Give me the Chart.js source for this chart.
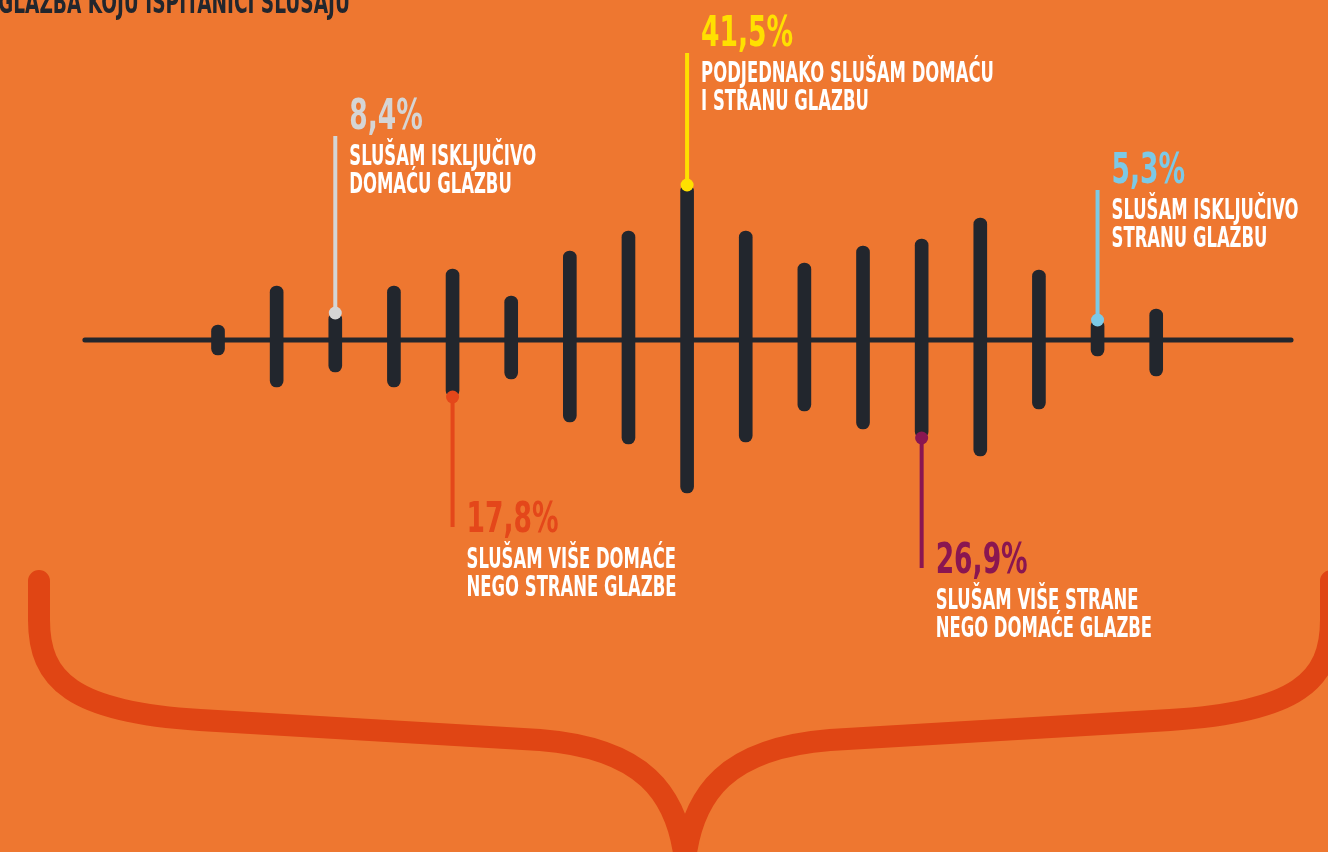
<!DOCTYPE html>
<html>
<head>
<meta charset="utf-8">
<script src="https://cdn.jsdelivr.net/npm/chart.js@4.4.1/dist/chart.umd.min.js"></script>
<style>
  html, body { margin: 0; padding: 0; background: #ee7730; overflow: hidden; }
  #wrap { position: relative; width: 1328px; height: 852px; }
</style>
</head>
<body>
<div id="wrap"><canvas id="chart"></canvas></div>
<script>
// Columns of the "sound wave", values measured from the baseline (up = positive)
const barIndex  = [0, 1, 2, 3, 4, 5, 6, 7, 8, 9, 10, 11, 12, 13, 14, 15, 16];
const barTop    = [15, 54, 27, 54, 71, 44, 89, 109, 155, 109, 77, 94, 101, 122, 70, 20, 31];
const barBottom = [-15, -47, -32, -47, -57, -39, -82, -104, -153, -102, -71, -89, -98, -116, -69, -16, -36];

// Baseline extent (in column units)
const axisStart = -2.27;
const axisEnd = 18.3;

// Callouts
const calloutBar   = [2, 4, 8, 12, 15];
const calloutSide  = ['top', 'bottom', 'top', 'bottom', 'top'];
const calloutEnd   = [204, -187, 287, -228, 150];
const calloutValue = ['8,4%', '17,8%', '41,5%', '26,9%', '5,3%'];
const calloutLabel = [
    ['SLUŠAM ISKLJUČIVO', 'DOMAĆU GLAZBU'],
    ['SLUŠAM VIŠE DOMAĆE', 'NEGO STRANE GLAZBE'],
    ['PODJEDNAKO SLUŠAM DOMAĆU', 'I STRANU GLAZBU'],
    ['SLUŠAM VIŠE STRANE', 'NEGO DOMAĆE GLAZBE'],
    ['SLUŠAM ISKLJUČIVO', 'STRANU GLAZBU']
];
const calloutColor = ['#d5d5d5', '#e4471a', '#ffe000', '#8a1651', '#7cc9e6'];

const title = 'GLAZBA KOJU ISPITANICI SLUŠAJU';

const DARK = '#22262d';
const BRACE = '#e04514';
const FONT = "'Liberation Sans Narrow', 'DejaVu Sans Condensed', 'Roboto', sans-serif";

// datasets
const datasets = [];

calloutBar.forEach((b, i) => {
    const start = calloutSide[i] === 'top' ? barTop[b] : barBottom[b];
    datasets.push({
        type: 'line',
        data: [{ x: barIndex[b], y: start }, { x: barIndex[b], y: calloutEnd[i] }],
        borderColor: calloutColor[i],
        borderWidth: 4,
        pointRadius: [6.5, 0],
        pointBackgroundColor: calloutColor[i],
        pointBorderWidth: 0,
        order: 1
    });
});

datasets.push({
    type: 'bar',
    data: barIndex.map((x, i) => ({ x: x, y: [barBottom[i], barTop[i]] })),
    backgroundColor: DARK,
    barThickness: 13,
    borderRadius: 7,
    borderSkipped: false,
    order: 2
});

datasets.push({
    type: 'line',
    data: [{ x: axisStart, y: 0 }, { x: axisEnd, y: 0 }],
    borderColor: DARK,
    borderWidth: 5,
    borderCapStyle: 'round',
    pointRadius: 0,
    order: 3
});

function fitScale(ctx, font, sample, width) {
    ctx.font = font;
    return width / ctx.measureText(sample).width;
}

function drawText(ctx, txt, x, y, font, color, sx) {
    ctx.save();
    ctx.translate(x, y);
    ctx.scale(sx, 1);
    ctx.font = font;
    ctx.fillStyle = color;
    ctx.textAlign = 'left';
    ctx.textBaseline = 'alphabetic';
    ctx.fillText(txt, 0, 0);
    ctx.restore();
}

const bracePlugin = {
    id: 'brace',
    beforeDatasetsDraw(chart) {
        const ctx = chart.ctx;
        const c = 685;
        const half = (sign) => {
            const X = (x) => c + sign * (c - x);
            ctx.moveTo(X(39), 581);
            ctx.lineTo(X(39), 620);
            ctx.bezierCurveTo(X(39), 680, X(72), 712, X(200), 720);
            ctx.lineTo(X(540), 740);
            ctx.bezierCurveTo(X(640), 748, X(680), 790, X(686), 870);
        };
        ctx.save();
        ctx.strokeStyle = BRACE;
        ctx.lineWidth = 22;
        ctx.lineCap = 'round';
        ctx.lineJoin = 'round';
        ctx.beginPath();
        half(-1);
        half(1);
        ctx.stroke();
        ctx.restore();
    }
};

const textPlugin = {
    id: 'texts',
    afterDatasetsDraw(chart) {
        const ctx = chart.ctx;
        const xs = chart.scales.x;
        const ys = chart.scales.y;

        const labelFont = 'bold 28px ' + FONT;
        const pctFont = 'bold 42px ' + FONT;
        const titleFont = 'bold 32px ' + FONT;
        const labelSx = fitScale(ctx, labelFont, 'SLUŠAM ISKLJUČIVO', 187);
        const pctSx = fitScale(ctx, pctFont, '41,5%', 92);
        const titleSx = fitScale(ctx, titleFont, title, 352);

        drawText(ctx, title, -2, 13, titleFont, DARK, titleSx);

        calloutBar.forEach((b, i) => {
            const px = xs.getPixelForValue(barIndex[b]) + 14;
            const py = ys.getPixelForValue(calloutEnd[i]);
            let pctY, l1;
            if (calloutSide[i] === 'top') {
                pctY = py - 7;
                l1 = py + 29;
            } else {
                pctY = py + 5;
                l1 = py + 41;
            }
            drawText(ctx, calloutValue[i], px, pctY, pctFont, calloutColor[i], pctSx);
            calloutLabel[i].forEach((t, k) => {
                drawText(ctx, t, px, l1 + k * 28, labelFont, '#ffffff', labelSx);
            });
        });
    }
};

new Chart(document.getElementById('chart'), {
    type: 'bar',
    data: { datasets: datasets },
    options: {
        responsive: true,
        maintainAspectRatio: false,
        animation: false,
        events: [],
        layout: { padding: 0, autoPadding: false },
        plugins: { legend: { display: false }, tooltip: { enabled: false } },
        scales: {
            x: { type: 'linear', min: -3.718, max: 18.93, offset: false, display: false },
            y: { type: 'linear', min: -512, max: 340, display: false }
        }
    },
    plugins: [bracePlugin, textPlugin]
});
</script>
</body>
</html>
